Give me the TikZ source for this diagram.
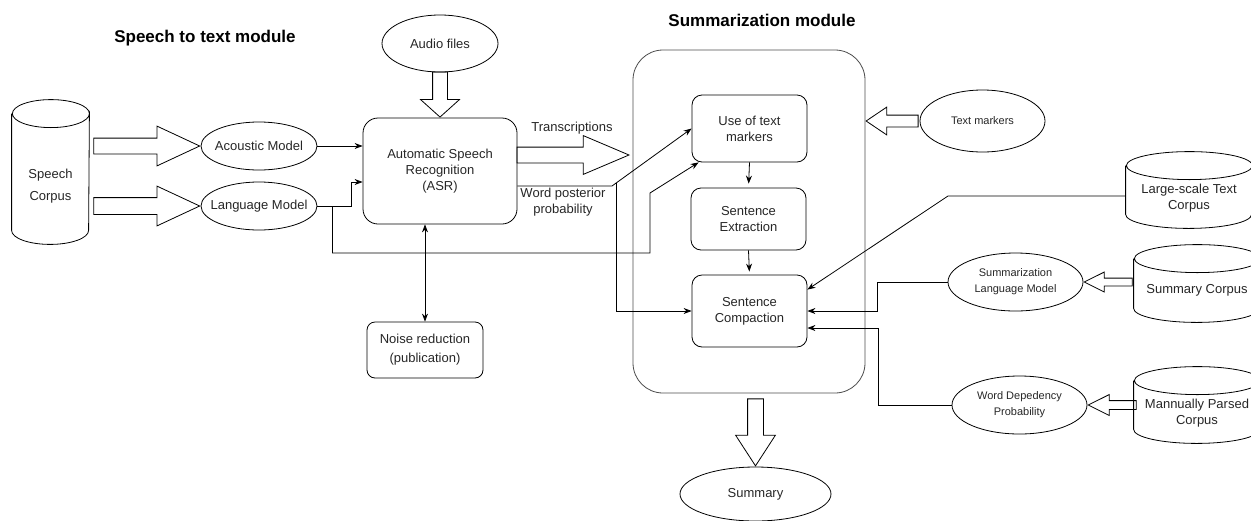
\documentclass[tikz,border=0pt]{standalone}
\usepackage{fontspec}
\setmainfont{Liberation Sans}
\usetikzlibrary{shapes.geometric,shapes.arrows,arrows.meta,calc}

\tikzset{
  txt/.style={font=\fontsize{13}{16}\selectfont, align=center, text=black!85},
  small/.style={font=\fontsize{11}{16}\selectfont, align=center, text=black!85},
  heading/.style={font=\fontsize{17}{20}\selectfont\bfseries},
  model/.style={ellipse, draw, inner xsep=-20pt, inner ysep=0pt},
  block/.style={rectangle, rounded corners=10pt, draw, inner sep=0pt},
  corpus/.style={rectangle, inner sep=0pt},
  fat/.style={single arrow, draw, anchor=tip, inner xsep=0pt, single arrow head indent=0pt},
  link/.style={-{Stealth[length=8pt,width=6pt]}},
}

\begin{document}
\begin{tikzpicture}[x=1pt,y=-1pt,line width=0.8pt]
  \useasboundingbox (0,0) rectangle (1251,520);
  \clip (0,0) rectangle (1251,520);

  % headings
  \node[heading] (stt) at (205,38) {Speech to text module};
  \node[heading] (sm) at (762,20) {Summarization module};

  % speech to text module
  \node[corpus, minimum width=77pt, minimum height=144pt,
    label={[txt, yshift=-14pt]center:{Speech\\[6pt]Corpus}}] (speech) at (50.5,172) {};
  \node[model, txt, minimum width=116pt, minimum height=48pt] (am) at (259,146) {Acoustic Model};
  \node[model, txt, minimum width=116pt, minimum height=48pt] (lm) at (259,206) {Language Model};
  \node[model, txt, minimum width=116pt, minimum height=57pt] (audio) at (440,43.5) {Audio files};
  \node[block, txt, rounded corners=15pt, minimum width=154pt, minimum height=106pt] (asr) at (440,171)
    {Automatic Speech\\Recognition\\(ASR)};
  \node[block, txt, rounded corners=8pt, minimum width=116pt, minimum height=56pt] (noise) at (425,350)
    {Noise reduction\\[3pt](publication)};

  % summarization module
  \node[draw=black!70, rounded corners=30pt, minimum width=232pt, minimum height=343pt] (summ) at (749,221.5) {};
  \node[block, txt, minimum width=115pt, minimum height=67pt] (utm) at (749.5,128.5) {Use of text\\markers};
  \node[block, txt, minimum width=115pt, minimum height=62pt] (ext) at (748.5,219) {Sentence\\Extraction};
  \node[block, txt, minimum width=115pt, minimum height=72pt] (comp) at (749.5,311) {Sentence\\Compaction};
  \node[model, txt, minimum width=151pt, minimum height=54pt] (summary) at (755.5,494) {Summary};

  % resources
  \node[model, small, minimum width=125pt, minimum height=62pt] (tm) at (982.5,121) {Text markers};
  \node[model, small, minimum width=135pt, minimum height=58pt] (slm) at (1015.5,282) {Summarization\\Language Model};
  \node[model, small, minimum width=135pt, minimum height=58pt] (wdp) at (1019.5,405) {Word Depedency\\Probability};
  \node[corpus, minimum width=126pt, minimum height=76pt,
    label={[txt, yshift=-8pt]center:{Large-scale Text\\Corpus}}] (ltc) at (1189,190) {};
  \node[corpus, minimum width=126pt, minimum height=77pt,
    label={[txt, yshift=-6.5pt]center:{Summary Corpus}}] (sc) at (1197,283.5) {};
  \node[corpus, minimum width=126pt, minimum height=76pt,
    label={[txt, yshift=-8.5pt]center:{Mannually Parsed\\Corpus}}] (mpc) at (1197,405) {};

  % cylinder outlines
  \foreach \c/\rx in {speech/38.5, ltc/63, sc/63, mpc/63}
    \draw ([yshift=-14pt]\c.north west) -- ([yshift=14pt]\c.south west)
      arc[start angle=180, end angle=0, x radius=\rx, y radius=14] -- ([yshift=-14pt]\c.north east)
      arc[start angle=0, end angle=180, x radius=\rx, y radius=14]
      arc[start angle=180, end angle=360, x radius=\rx, y radius=14];

  % block arrows
  \node[fat, minimum height=106pt, inner ysep=7.5pt, single arrow head extend=12pt, single arrow tip angle=50] (f1) at (am.west) {};
  \node[fat, minimum height=106pt, inner ysep=8pt, single arrow head extend=11.5pt, single arrow tip angle=50] (f2) at (lm.west) {};
  \node[fat, rotate=-90, minimum height=45pt, inner ysep=7pt, single arrow head extend=12pt, single arrow tip angle=96] (f3) at (asr.north) {};
  \node[fat, minimum height=112pt, inner ysep=7.5pt, single arrow head extend=11.5pt, single arrow tip angle=46] (f4) at (630,155) {};
  \node[fat, rotate=180, minimum height=52pt, inner ysep=5.5pt, single arrow head extend=8pt, single arrow tip angle=68] (f5) at (summ.east |- tm) {};
  \node[fat, rotate=180, minimum height=48pt, inner ysep=3.5pt, single arrow head extend=6pt, single arrow tip angle=53] (f6) at (slm.east) {};
  \node[fat, rotate=180, minimum height=48pt, inner ysep=4pt, single arrow head extend=6pt, single arrow tip angle=53] (f7) at (wdp.east) {};
  \node[fat, rotate=-90, minimum height=67pt, inner ysep=7.5pt, single arrow head extend=12pt, single arrow tip angle=66] (f8) at (summary.north) {};

  \node[txt] (trans) at (572,128) {Transcriptions};
  \node[txt] (wpp) at (563,202) {Word posterior\\probability};

  % connectors
  \coordinate (wp) at (612,186);
  \draw[link] (am.east) -- (am.east -| asr.west);
  \draw[link] (lm.east) -- ++(34,0) |- ([yshift=-11pt]asr.west);
  \draw[link] ($(lm.east)+(15,0)$) |- (650,253) -- (650,193) -- ([xshift=7pt]utm.south west);
  \draw[link] ([yshift=-15pt]asr.east) -- (wp) -- (utm.west);
  \draw[link] ($(wp)!0.05!(utm.west)$) |- (comp.west);
  \draw[{Stealth[length=8pt,width=6pt]}-{Stealth[length=8pt,width=6pt]}] (noise.north |- asr.south) -- (noise.north);
  \draw[link, shorten >=4pt] (utm.south) -- (ext.north);
  \draw[link, shorten >=3pt] (ext.south) -- (comp.north);
  \draw[link] ([yshift=-6pt]ltc.west) -- (948,196) -- ([yshift=-15pt]comp.north east);
  \draw[link] (slm.west) -- ++(-70,0) |- (comp.east);
  \draw[link] (wdp.west) -- ++(-73,0) |- ([yshift=-17pt]comp.east);
\end{tikzpicture}
\end{document}
